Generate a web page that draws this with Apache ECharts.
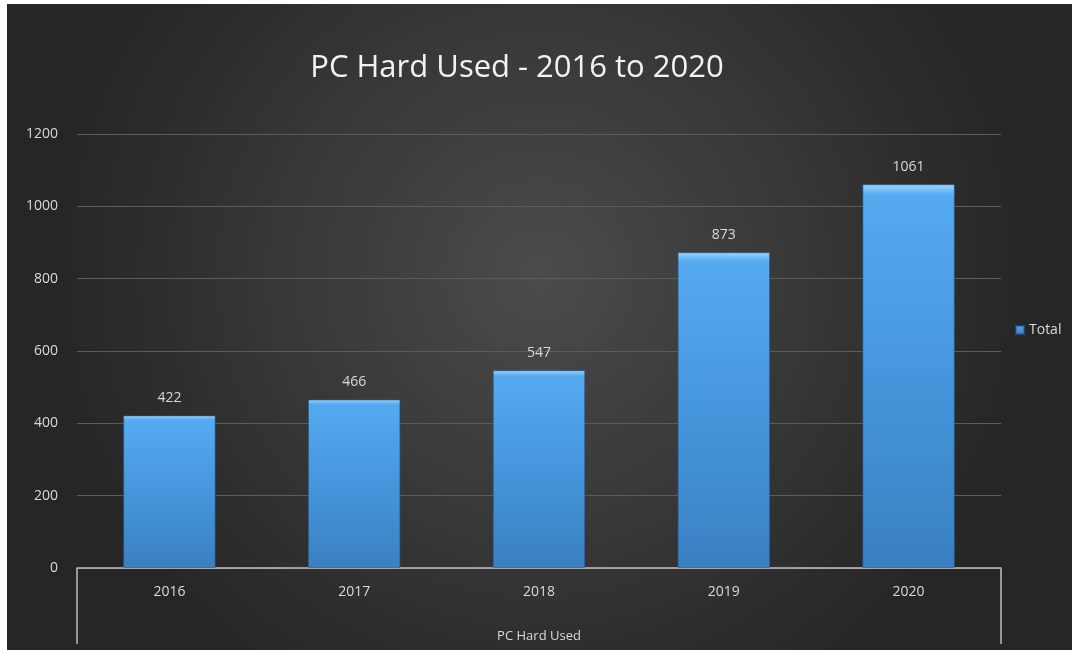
<!DOCTYPE html>
<html><head><meta charset="utf-8">
<script src="https://cdn.jsdelivr.net/npm/echarts@6/dist/echarts.min.js"></script>
<style>
html,body{margin:0;padding:0;background:#fff;width:1072px;height:650px;overflow:hidden}
#c{position:absolute;left:7px;top:4px;width:1065px;height:646px}
</style></head><body>
<div id="c"></div>
<script>
const categories = ['2016','2017','2018','2019','2020'];
const totals = [422, 466, 547, 873, 1061];
const yTicks = [0, 200, 400, 600, 800, 1000, 1200];
const titleText = 'PC Hard Used - 2016 to 2020';
const axisName = 'PC Hard Used';
const seriesName = 'Total';

const chart = echarts.init(document.getElementById('c'));
const font = '"Open Sans", "Noto Sans", sans-serif';
const gridL = 70, gridR = 71, gridT = 130, gridB = 82;
const W = 1065, H = 646;
chart.setOption({
  backgroundColor: {
    type: 'radial', x: 0.5, y: 0.42, r: 0.75,
    colorStops: [{offset: 0, color: '#4b4b4b'}, {offset: 1, color: '#262626'}]
  },
  title: {
    text: titleText, left: 505, textAlign: 'center', top: 44,
    textStyle: {color: '#f2f2f2', fontFamily: font, fontSize: 31, fontWeight: 'normal'}
  },
  legend: {
    data: [seriesName], orient: 'vertical', left: 1003, top: 314,
    itemWidth: 8, itemHeight: 8, itemGap: 4,
    icon: 'rect',
    textStyle: {color: '#d9d9d9', fontFamily: font, fontSize: 14}
  },
  grid: {left: gridL, right: gridR, top: gridT, bottom: gridB},
  xAxis: {
    type: 'category', data: categories,
    name: axisName, nameLocation: 'middle', nameGap: 62,
    nameTextStyle: {color: '#d9d9d9', fontFamily: font, fontSize: 13},
    axisLine: {lineStyle: {color: '#bfbfbf', width: 1.5}},
    axisTick: {show: false},
    axisLabel: {color: '#d9d9d9', fontFamily: font, fontSize: 14, margin: 17}
  },
  yAxis: {
    type: 'value', min: yTicks[0], max: yTicks[yTicks.length-1], interval: 200,
    axisLine: {show: false}, axisTick: {show: false},
    axisLabel: {color: '#d9d9d9', fontFamily: font, fontSize: 14, margin: 19, formatter: v => String(v)},
    splitLine: {lineStyle: {color: '#5c5c5c', width: 1}}
  },
  series: [{
    name: seriesName, type: 'bar', data: totals, barWidth: '50%',
    itemStyle: {
      color: {type: 'linear', x: 0, y: 0, x2: 0, y2: 1, colorStops: [
        {offset: 0, color: '#9ad6ff'},
        {offset: 0.02, color: '#6ab8f5'},
        {offset: 0.03, color: '#56aaf0'},
        {offset: 0.5, color: '#4596dc'},
        {offset: 1, color: '#3a80c2'}
      ]},
      borderColor: 'rgba(40,90,150,0.6)', borderWidth: 1
    },
    label: {show: true, position: 'top', distance: 10, color: '#d9d9d9', fontFamily: font, fontSize: 14}
  }],
  graphic: [
    {type: 'line', shape: {x1: gridL, y1: H - gridB, x2: gridL, y2: H - 6}, style: {stroke: '#bfbfbf', lineWidth: 1.5}},
    {type: 'line', shape: {x1: W - gridR, y1: H - gridB, x2: W - gridR, y2: H - 6}, style: {stroke: '#bfbfbf', lineWidth: 1.5}}
  ]
});
</script></body></html>
